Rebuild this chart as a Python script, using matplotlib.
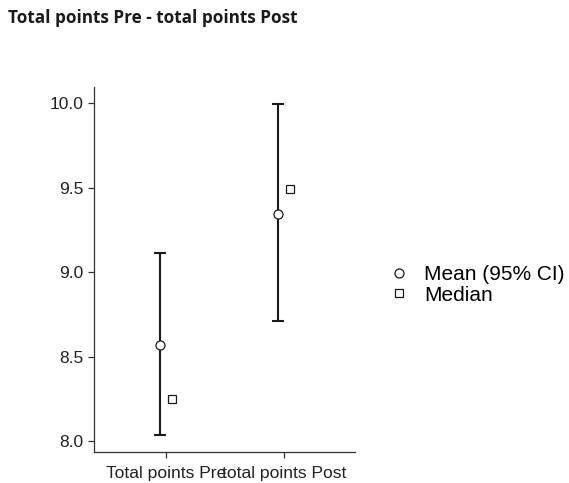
import matplotlib
matplotlib.use("Agg")
import matplotlib.pyplot as plt
from matplotlib.lines import Line2D

categories = ["Total points Pre", "total points Post"]
means = [8.57, 9.347]
ci_low = [8.034, 8.713]
ci_high = [9.113, 9.997]
medians = [8.248, 9.495]
yticks = [8.0, 8.5, 9.0, 9.5, 10.0]

fig = plt.figure(figsize=(5.69, 4.83), dpi=100)
ax = fig.add_axes([94/569, 1-452/483, 261/569, 365/483])

x = list(range(len(categories)))
xm = [v - 0.05 for v in x]
xd = [v + 0.05 for v in x]
yerr = [[m - l for m, l in zip(means, ci_low)], [h - m for m, h in zip(means, ci_high)]]
ax.errorbar(xm, means, yerr=yerr, fmt='none', ecolor='#1a1a1a', elinewidth=1.5,
            capsize=4, capthick=1.5, zorder=2)
ax.plot(xm, means, 'o', mfc='white', mec='#1a1a1a', ms=6.5, mew=0.9, zorder=3, linestyle='none')
ax.plot(xd, medians, 's', mfc='white', mec='#1a1a1a', ms=5.5, mew=0.9, zorder=3, linestyle='none')

ax.set_xlim(-0.61, 1.6)
ax.set_ylim(7.935, 10.097)
ax.set_yticks(yticks)
ax.set_yticklabels([f"{v:.1f}" for v in yticks], fontsize=12.5, family='Liberation Sans')
ax.set_xticks(x)
ax.set_xticklabels(categories, fontsize=12.6, family='Liberation Sans')
for s in ['top', 'right']:
    ax.spines[s].set_visible(False)
for s in ['left', 'bottom']:
    ax.spines[s].set_color('#333333')
    ax.spines[s].set_linewidth(0.9)
ax.tick_params(axis='both', direction='out', length=4, width=0.9, color='#333333', labelcolor='#222222')
ax.tick_params(axis='x', pad=6)

fig.text(8/569, 1-18/483, "Total points Pre - total points Post", fontsize=12.3,
         fontweight='bold', family='Open Sans', va='center', ha='left', color='#1a1a1a')

handles = [Line2D([], [], marker='o', linestyle='none', mfc='white', mec='#1a1a1a', ms=6.5, mew=0.9),
           Line2D([], [], marker='s', linestyle='none', mfc='white', mec='#1a1a1a', ms=5.5, mew=0.9)]
fig.legend(handles, ["Mean (95% CI)", "Median"], loc='center left',
           bbox_to_anchor=(370/569, 1-285/483), frameon=False, handletextpad=0.7,
           labelspacing=0.05, handlelength=1.0, prop={'family': 'Liberation Sans', 'size': 15})

fig.savefig("out.png", dpi=100)
